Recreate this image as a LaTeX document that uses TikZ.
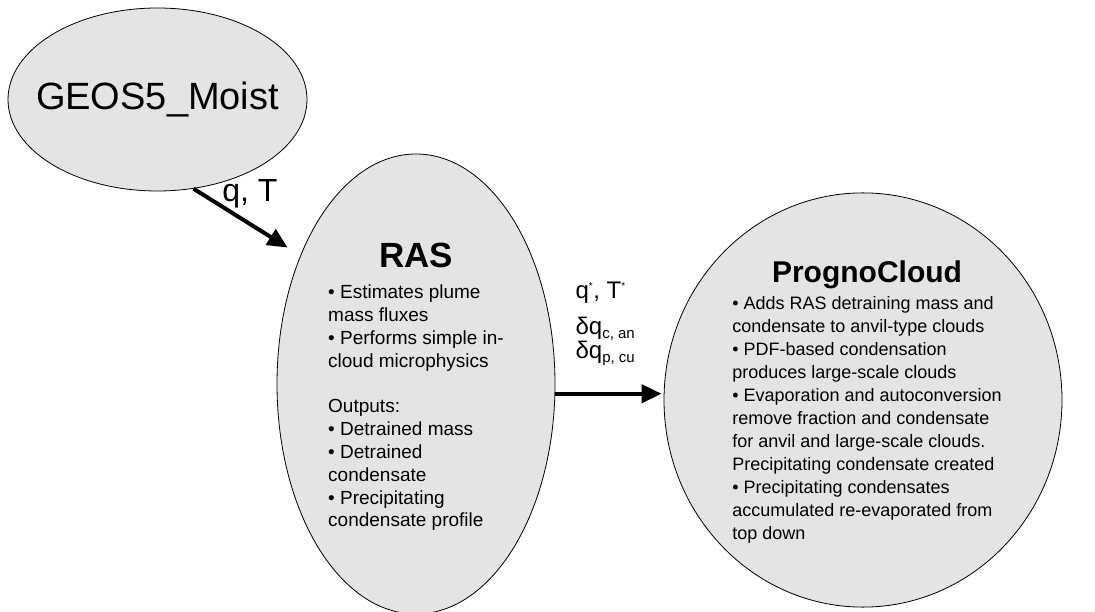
\documentclass[tikz,border=0pt]{standalone}
\usepackage{fontspec}
\setmainfont{Liberation Sans}
\usepackage{tikz}
\usetikzlibrary{shapes,arrows.meta}
\usepackage{xcolor}
\definecolor{cloudgray}{RGB}{228,228,228}

\begin{document}
\begin{tikzpicture}[-, x=1pt, y=-1pt, blob/.style={ellipse, draw, fill=cloudgray, line width=0.8pt, inner sep=0pt}, flow/.style={-{Triangle[length=20pt,width=18pt]}, line width=4pt}, tag/.style={font=\fontsize{24}{21}\selectfont, inner sep=3pt}]
\useasboundingbox (0,0) rectangle (1095,612);
\node[blob, inner xsep=-16pt, minimum width=299pt, minimum height=183pt, font=\fontsize{38}{42}\selectfont] (moist) at (157.5,99.5) {GEOS5\_Moist};
\node[blob, minimum width=278pt, minimum height=460pt, font=\fontsize{19}{22.8}\selectfont] (ras) at (416,384) {\begin{tabular}{@{}l@{}}
\multicolumn{1}{@{}c@{}}{\rule{0pt}{33pt}\bfseries\fontsize{35}{38}\selectfont RAS}\\[9pt]
• Estimates plume\\
mass fluxes\\
• Performs simple in-\\
cloud microphysics\\
\\
Outputs:\\
• Detrained mass\\
• Detrained\\
condensate\\
• Precipitating\\
condensate profile
\end{tabular}};
\node[blob, minimum width=398pt, minimum height=410pt, font=\fontsize{18}{23}\selectfont] (cloud) at (863,400) {\begin{tabular}{@{\hspace{8pt}}l@{}}
\multicolumn{1}{@{\hspace{8pt}}c@{}}{\rule{0pt}{29pt}\bfseries\fontsize{30}{34}\selectfont PrognoCloud}\\[4pt]
• Adds RAS detraining mass and\\
condensate to anvil-type clouds\\
• PDF-based condensation\\
produces large-scale clouds\\
• Evaporation and autoconversion\\
remove fraction and condensate\\
for anvil and large-scale clouds.\\
Precipitating condensate created\\
• Precipitating condensates\\
accumulated re-evaporated from\\
top down
\end{tabular}};
\path
(moist.-68) edge[flow, shorten >=15pt] node[tag, font=\fontsize{32}{34}\selectfont, above=9pt, xshift=3pt] (qt) {q, T} (ras.132)
(ras.-4) edge[flow, shorten >=2pt] node[tag, above=23pt, xshift=-4pt, align=left] (qtstar) {q\textsuperscript{\fontsize{10}{10}\selectfont *}, T\textsuperscript{\fontsize{10}{10}\selectfont *}\\[13pt] δq\textsubscript{\fontsize{15}{15}\selectfont c, an}\\ δq\textsubscript{\fontsize{15}{15}\selectfont p, cu}} (ras.-4 -| cloud.west);
\end{tikzpicture}
\end{document}
